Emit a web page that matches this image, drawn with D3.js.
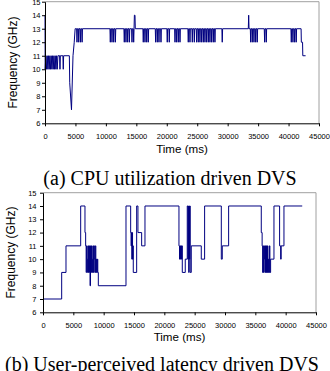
<!DOCTYPE html>
<html>
<head>
<meta charset="utf-8">
<script src="https://cdn.jsdelivr.net/npm/d3@7"></script>
<style>
  body { margin: 0; background: #fff; }
  svg { display: block; }
</style>
</head>
<body>
<div id="graph_here"></div>
<script>
// tick labels shared by both panels
const xTicks = [0, 5000, 10000, 15000, 20000, 25000, 30000, 35000, 40000, 45000];
const yTicks = [6, 7, 8, 9, 10, 11, 12, 13, 14, 15];
const captions = ["(a) CPU utilization driven DVS", "(b) User-perceived latency driven DVS"];

// (a) [time ms, GHz], drawn as a plain line
const cpuTrace = [
  [0,14],[30,10],[140,11],[250,10],[360,11],[470,10],[580,11],[690,10],[800,11],[910,10],
  [1020,11],[1130,10],[1240,11],[1350,10],[1460,11],[1570,10],[1680,11],[1790,10],[1900,11],[2010,10],[2120,11],
  [2400,11],[2460,10],[2520,11],[2940,11],[3000,10],[3060,11],
  [4000,11],[4060,9],[4350,7],[4600,11],[4800,12],[4950,13],
  [5195,13],[5255,12],[5315,13],[5474,13],[5534,12],[5594,13],[5753,13],[5813,12],[5873,13],[6033,13],[6093,12],[6153,13],
  [10665,13],[10725,12],[10785,13],[10942,13],[11002,12],[11062,13],[11221,13],[11281,12],[11341,13],[11500,13],[11560,12],[11620,13],
  [12961,13],[13021,12],[13081,13],[13240,13],[13300,12],[13360,13],[13520,13],[13580,12],[13640,13],[13800,13],[13860,12],[13920,13],
  [14225,13],[14285,12],[14345,13],[14505,13],[14565,12],[14625,13],[14680,14],[14780,14],[14830,13],
  [16080,13],[16140,12],[16200,13],[16360,13],[16420,12],[16480,13],[16640,13],[16700,12],[16760,13],[16900,13],[16960,12],[17020,13],
  [18110,13],[18170,12],[18230,13],[18380,13],[18440,12],[18500,13],[18660,13],[18720,12],[18780,13],[18990,13],[19050,12],[19110,13],
  [20020,13],[20080,12],[20140,13],[20350,13],[20410,12],[20470,13],
  [21290,13],[21350,12],[21410,13],[21560,13],[21620,12],[21680,13],[21830,13],[21890,12],[21950,13],[22110,13],[22170,12],[22230,13],
  [23470,13],[23530,12],[23590,13],[23750,13],[23810,12],[23870,13],[24130,13],[24190,12],[24250,13],[24460,13],[24520,12],[24580,13],
  [24840,13],[24900,12],[24960,13],[25110,13],[25170,12],[25230,13],[25390,13],[25450,12],[25510,13],[25670,13],[25730,12],[25790,13],
  [25940,13],[26000,12],[26060,13],[26210,13],[26270,12],[26330,13],[26490,13],[26550,12],[26610,13],[26760,13],[26820,12],[26880,13],
  [27030,13],[27090,12],[27150,13],[27310,13],[27370,12],[27430,13],[27580,13],[27640,12],[27700,13],[27850,13],[27910,12],[27970,13],
  [29050,13],[29110,12],[29170,13],
  [33390,13],[33450,14],[33510,13],
  [33720,13],[33780,12],[33840,13],[33980,13],[34040,12],[34100,13],[34260,13],[34320,12],[34380,13],[34540,13],[34600,12],[34660,13],[34800,13],[34860,12],[34920,13],
  [36010,13],[36070,12],[36130,13],[36280,13],[36340,12],[36400,13],
  [40390,13],[40450,12],[40510,13],[40660,13],[40720,12],[40780,13],[40940,13],[41000,12],[41060,13],[41200,13],[41260,12],[41320,13],
  [42060,13],[42100,12],[42300,12],[42340,11],[42800,11]
];

// (b) [time ms, GHz], value holds until the next sample
const latencyTrace = [
  [0,7],[3080,9],[3790,11],[6210,14],[6920,12],
  [7030,11],[7110,9],[7190,11],[7270,10],[7350,9],[7430,11],[7510,9],[7590,11],[7670,9],[7750,8],[7830,11],[7910,9],
  [7990,11],[8070,10],[8150,9],[8230,11],[8310,9],[8390,11],[8470,10],[8550,9],[8630,11],[8710,9],[8790,10],[8870,9],
  [8950,10],[9030,9],[9120,8],
  [13680,14],[14450,12],[14520,11],[14580,12],[14640,10],[14700,12],[14760,10],[14820,11],[14880,9],[15440,14],[15650,12],[16260,11],[16810,14],
  [22410,11],[22500,10],[22580,11],[22660,10],[22740,11],[22820,10],[22900,11],[22960,9],[23450,10],
  [23780,14],[23900,10],[23960,14],[24020,9],[24080,14],[24140,10],[24200,14],[24260,9],[24440,11],[26090,10],[26640,14],
  [29390,10],[29550,11],[30600,14],
  [35980,12],[36120,11],[36200,9],[36280,11],[36360,9],[36440,10],[36520,11],[36600,9],[36680,11],[36760,9],[36840,11],
  [36920,9],[37000,11],[37080,9],[37160,10],[37240,9],[37320,11],[37400,9],[37520,10],
  [38070,14],[39000,11],[39170,10],[39260,11],[39720,14],[42730,14]
];

function drawcharts(){
    const width = 330;
    const height = 371;

    var svg = d3.select('#graph_here')
        .append('svg')
        .attr("width", width)
        .attr("height", height);

    const panels = [
        {data: cpuTrace, curve: d3.curveLinear, left: 45, right: 319, top: 1.7, bottom: 123.3,
         yPad: 1.5, yTitleX: 17, timeY: 152.6, caption: captions[0], capX: 170, capY: 185},
        {data: latencyTrace, curve: d3.curveStepAfter, left: 43, right: 316, top: 192.7, bottom: 312.3,
         yPad: 3.5, yTitleX: 14.5, timeY: 340.8, caption: captions[1], capX: 162, capY: 371}
    ];

    panels.forEach(function(p){
        const xScale = d3.scaleLinear().domain([0, 45000]).range([p.left, p.right]);
        const yScale = d3.scaleLinear().domain([6, 15]).range([p.bottom, p.top]);

        // grey frame on top and right, Excel style
        svg.append("path")
            .attr("d", "M" + p.left + "," + yScale(15) + "H" + xScale(45000) + "V" + yScale(6))
            .attr("fill", "none")
            .attr("stroke", "#a0a0a0")
            .attr("stroke-width", 1);

        const line = d3.line()
            .x(function(d){ return xScale(d[0]); })
            .y(function(d){ return yScale(d[1]); })
            .curve(p.curve);

        svg.append("path")
            .datum(p.data)
            .attr("d", line)
            .attr("fill", "none")
            .attr("stroke", "#000080")
            .attr("stroke-width", 1);

        const xAxis = d3.axisBottom(xScale).tickValues(xTicks).tickFormat(d3.format("d"))
            .tickSize(3).tickSizeOuter(0).tickPadding(7);
        const yAxis = d3.axisLeft(yScale).tickValues(yTicks).tickFormat(d3.format("d"))
            .tickSize(3).tickSizeOuter(0).tickPadding(p.yPad);

        const gx = svg.append("g")
            .attr("transform", "translate(0," + p.bottom + ")")
            .call(xAxis);
        const gy = svg.append("g")
            .attr("transform", "translate(" + p.left + ",0)")
            .call(yAxis);

        [gx, gy].forEach(function(g){
            g.selectAll("path, line").attr("stroke", "#000");
            g.selectAll("text")
                .attr("fill", "#000")
                .style("font-family", "'Liberation Sans', Arial, sans-serif")
                .style("font-size", "7.5px");
        });

        svg.append("text")
            .attr("x", (p.left + p.right) / 2)
            .attr("y", p.timeY)
            .attr("text-anchor", "middle")
            .style("font-family", "'Liberation Sans', Arial, sans-serif")
            .style("font-size", "11.6px")
            .text("Time (ms)");

        svg.append("text")
            .attr("transform", "translate(" + p.yTitleX + "," + (p.top + p.bottom) / 2 + ") rotate(-90)")
            .attr("text-anchor", "middle")
            .style("font-family", "'Liberation Sans', Arial, sans-serif")
            .style("font-size", "12px")
            .text("Frequency (GHz)");

        svg.append("text")
            .attr("x", p.capX)
            .attr("y", p.capY)
            .attr("text-anchor", "middle")
            .style("font-family", "'Liberation Serif', 'Times New Roman', serif")
            .style("font-size", "20px")
            .text(p.caption);
    });
}

window.addEventListener('load', drawcharts);
</script>
</body>
</html>
